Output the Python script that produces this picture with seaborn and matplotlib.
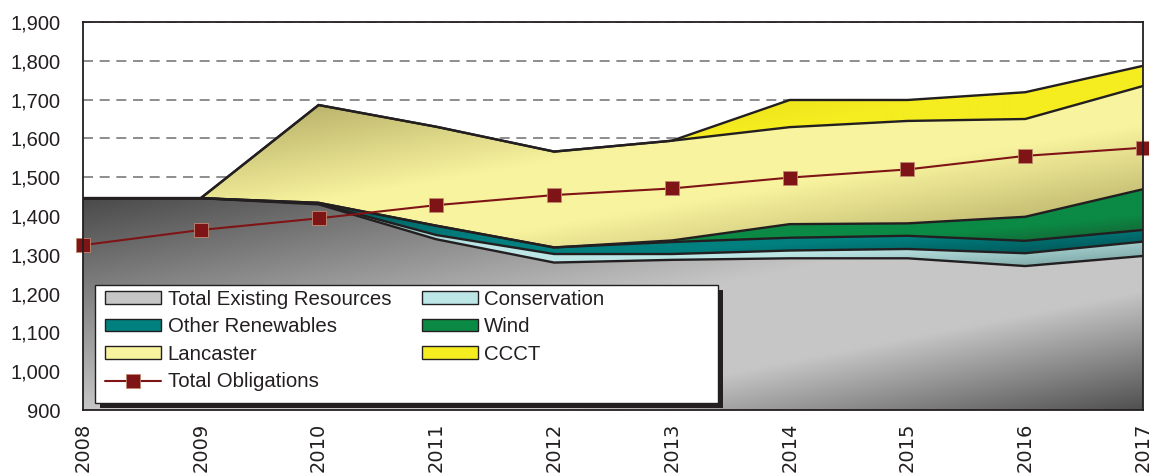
import numpy as np
import matplotlib
matplotlib.use("Agg")
import matplotlib.pyplot as plt
from matplotlib.patches import Patch, Rectangle
from matplotlib.lines import Line2D
from matplotlib.ticker import FuncFormatter, MultipleLocator
import matplotlib.colors as mcolors
import seaborn as sns

# Resource stack (MW) by year
years = [2008, 2009, 2010, 2011, 2012, 2013, 2014, 2015, 2016, 2017]
existing = [1446, 1446, 1430, 1340, 1280, 1287, 1291, 1291, 1271, 1297]
conservation = [0, 0, 2, 11, 22, 15, 20, 24, 33, 37]
other_renewables = [0, 0, 2, 24, 17, 31, 33, 34, 32, 30]
wind = [0, 0, 0, 0, 0, 4, 35, 32, 62, 105]
lancaster = [0, 0, 252, 255, 247, 257, 250, 264, 252, 266]
ccct = [0, 0, 0, 0, 0, 0, 70, 54, 69, 52]
obligations = [1325, 1364, 1394, 1428, 1454, 1471, 1499, 1520, 1555, 1576]

layer_names = ["Total Existing Resources", "Conservation", "Other Renewables",
               "Wind", "Lancaster", "CCCT"]
layer_values = [existing, conservation, other_renewables, wind, lancaster, ccct]
# (dark, light) ends of each gradient fill
layer_colors = [("#4a4a4a", "#c6c6c6"),
                ("#6f9a9a", "#bde6e6"),
                ("#004a4e", "#00807f"),
                ("#1a4e2a", "#0b8a45"),
                ("#a39b58", "#f8f39e"),
                ("#d4cb10", "#f5ed20")]
# gradient profile (position along the diagonal -> share of the light colour)
layer_profiles = [([0.0, 0.5, 0.72, 1.0], [0.0, 1.0, 1.0, 0.05]),
                  ([0.0, 0.5, 0.72, 1.0], [0.0, 1.0, 1.0, 0.05]),
                  ([0.0, 0.5, 0.72, 1.0], [0.0, 1.0, 1.0, 0.05]),
                  ([0.0, 0.5, 0.72, 1.0], [0.0, 1.0, 1.0, 0.05]),
                  ([0.0, 0.42, 0.62, 1.0], [0.0, 1.0, 1.0, 0.0]),
                  ([0.0, 0.5, 0.72, 1.0], [0.3, 1.0, 1.0, 0.4])]

sns.set_style("white")
plt.rcParams["font.family"] = ["Liberation Sans", "DejaVu Sans"]
INK = "#231f20"

fig = plt.figure(figsize=(11.49, 4.73), dpi=100)
ax = fig.add_axes([83 / 1149, 63 / 473, 1060 / 1149, 388 / 473])

x = np.array(years, dtype=float)
ymin, ymax = 900, 1900


def gradient_area(ax, x, lo, hi, dark, light, profile, zorder):
    """Fill between lo and hi with a diagonal dark-light-dark gradient."""
    poly = ax.fill_between(x, lo, hi, facecolor="none", edgecolor="none", zorder=zorder)
    thick = hi - lo > 0
    idx = np.where(thick)[0]
    i0, i1 = max(idx.min() - 1, 0), min(idx.max() + 1, len(x) - 1)
    x0, x1 = x[i0], x[i1]
    y0 = max(lo[i0:i1 + 1].min(), ymin)
    y1 = hi[i0:i1 + 1].max()
    W, H = 300, 150
    u = np.linspace(0, 1, W)[None, :]
    v = np.linspace(1, 0, H)[:, None]
    t = (u + (1 - v)) / 2
    w = np.interp(t, profile[0], profile[1])
    d = np.array(mcolors.to_rgb(dark))
    l = np.array(mcolors.to_rgb(light))
    img = d[None, None, :] + (l - d)[None, None, :] * w[..., None]
    im = ax.imshow(img, extent=[x0, x1, y0, y1], origin="upper", aspect="auto",
                   interpolation="bilinear", zorder=zorder)
    im.set_clip_path(poly.get_paths()[0], ax.transData)


cum = np.full(len(years), float(ymin))
tops = []
for vals, (dark, light), prof in zip(layer_values, layer_colors, layer_profiles):
    top = cum + np.array(vals, dtype=float) if len(tops) else np.array(vals, dtype=float)
    gradient_area(ax, x, cum, top, dark, light, prof, zorder=2)
    tops.append(top)
    cum = top

# outline along the top of every layer
for top in tops:
    ax.plot(x, top, color=INK, lw=1.7, zorder=3, solid_joinstyle="miter")

# total obligations
sns.lineplot(x=years, y=obligations, ax=ax, color="#7f1416", lw=1.5, marker="s",
             markersize=10, markeredgecolor="#c08a70", markeredgewidth=0.6,
             zorder=4, clip_on=False, legend=False)

ax.set_xlim(2008, 2017)
ax.set_ylim(ymin, ymax)
ax.yaxis.set_major_locator(MultipleLocator(100))
ax.yaxis.set_major_formatter(FuncFormatter(lambda v, p: f"{int(v):,}"))
ax.set_xticks(years)
ax.set_xticklabels([str(y) for y in years], rotation=90, fontsize=14,
                   family=["DejaVu Sans"], color=INK)
ax.tick_params(axis="y", length=0, pad=16, labelsize=14.5, labelcolor=INK)
ax.tick_params(axis="x", length=0, pad=9)
ax.grid(axis="y", color="#7a7a7a", lw=1.2, ls=(0, (6, 4)), zorder=0.5)
ax.grid(axis="x", visible=False)
ax.set_axisbelow(True)
for s in ax.spines.values():
    s.set_visible(True)
    s.set_color(INK)
    s.set_linewidth(1.3)
    s.set_zorder(5)
ax.set_xlabel("")
ax.set_ylabel("")

# legend box with drop shadow
bx0, by0, bx1, by1 = 0.0113, 0.018, 0.599, 0.322
sx, sy = 5 / 1060, -5 / 388
ax.add_patch(Rectangle((bx0 + sx, by0 + sy), bx1 - bx0, by1 - by0, transform=ax.transAxes,
                       facecolor=INK, edgecolor="none", zorder=6, clip_on=False))
ax.add_patch(Rectangle((bx0, by0), bx1 - bx0, by1 - by0, transform=ax.transAxes,
                       facecolor="white", edgecolor=INK, lw=1.0, zorder=6.1))

def swatch(i):
    return Patch(facecolor=layer_colors[i][1], edgecolor=INK, lw=1.0)

handles = [swatch(0), swatch(2), swatch(4),
           Line2D([], [], color="#7f1416", lw=1.5, marker="s", markersize=10,
                  markeredgecolor="#c08a70", markeredgewidth=0.6),
           swatch(1), swatch(3), swatch(5)]
labels = ["Total Existing Resources", "Other Renewables", "Lancaster",
          "Total Obligations", "Conservation", "Wind", "CCCT"]
leg = ax.legend(handles, labels, ncol=2, frameon=False, loc="upper left",
                bbox_to_anchor=(bx0 + 0.004, by1 + 0.004), fontsize=14.7,
                handlelength=2.75, handleheight=0.55, handletextpad=0.3,
                columnspacing=1.5, labelspacing=0.42, borderaxespad=0,
                borderpad=0.3)
leg.set_zorder(7)
for t in leg.get_texts():
    t.set_color(INK)

fig.savefig("out.png", dpi=100)
